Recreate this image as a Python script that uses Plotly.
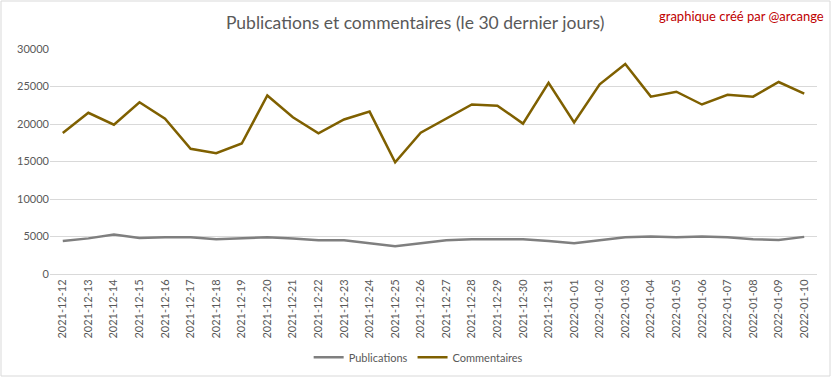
import plotly.graph_objects as go

dates = ["2021-12-12", "2021-12-13", "2021-12-14", "2021-12-15", "2021-12-16", "2021-12-17",
         "2021-12-18", "2021-12-19", "2021-12-20", "2021-12-21", "2021-12-22", "2021-12-23",
         "2021-12-24", "2021-12-25", "2021-12-26", "2021-12-27", "2021-12-28", "2021-12-29",
         "2021-12-30", "2021-12-31", "2022-01-01", "2022-01-02", "2022-01-03", "2022-01-04",
         "2022-01-05", "2022-01-06", "2022-01-07", "2022-01-08", "2022-01-09", "2022-01-10"]

publications = [4400, 4750, 5250, 4800, 4900, 4900, 4650, 4750, 4900, 4750, 4500, 4500,
                4100, 3700, 4100, 4500, 4650, 4650, 4650, 4400, 4100, 4500, 4900, 5000,
                4900, 5000, 4900, 4650, 4550, 4950]

commentaires = [18800, 21500, 19900, 22900, 20700, 16700, 16100, 17400, 23800, 20900, 18750, 20600,
                21650, 14900, 18850, 20700, 22600, 22450, 20050, 25500, 20200, 25300, 28000, 23650,
                24300, 22600, 23900, 23650, 25600, 24050]

FONT = "Lato"
TXT = "#595959"

fig = go.Figure()
fig.add_trace(go.Scatter(x=dates, y=publications, mode="lines", name="Publications",
                         line=dict(color="#7F7F7F", width=2.5)))
fig.add_trace(go.Scatter(x=dates, y=commentaires, mode="lines", name="Commentaires",
                         line=dict(color="#7F6000", width=2.5)))

fig.update_layout(
    width=832, height=378,
    margin=dict(l=50, r=15, t=49, b=104, autoexpand=False),
    paper_bgcolor="white", plot_bgcolor="white",
    font=dict(family=FONT, color=TXT, size=11),
    title=dict(text="Publications et commentaires (le 30 dernier jours)",
               x=0.499, xref="container", xanchor="center",
               y=1 - 23 / 378, yref="container", yanchor="middle",
               font=dict(family=FONT, size=17.5, color=TXT)),
    showlegend=True,
    legend=dict(orientation="h", x=0.48, xanchor="center", y=-0.37, yanchor="middle",
                font=dict(family=FONT, size=11, color=TXT), itemwidth=30),
    xaxis=dict(type="category", range=[-0.5, len(dates) - 0.5], tickangle=-90,
               showgrid=False, showline=True, linecolor="#D9D9D9", linewidth=1,
               ticks="", automargin=False, tickfont=dict(family=FONT, size=11, color=TXT),
               fixedrange=True),
    yaxis=dict(range=[0, 30000], dtick=5000, tickformat="d", showgrid=True,
               gridcolor="#D9D9D9", gridwidth=1, zeroline=False, showline=False,
               ticks="", automargin=False, tickfont=dict(family=FONT, size=11, color=TXT),
               fixedrange=True),
)

fig.add_annotation(text="graphique créé par @arcange", xref="paper", yref="paper",
                   x=(826 - 50) / 767, y=(274 - 16) / 225, xanchor="right", yanchor="middle",
                   showarrow=False, font=dict(family=FONT, size=13, color="#C00000"))

fig.add_shape(type="rect", xref="paper", yref="paper",
              x0=(1 - 50) / 767, x1=(830 - 50) / 767,
              y0=(274 - 376) / 225, y1=(274 - 1) / 225,
              line=dict(color="#D9D9D9", width=1), fillcolor="rgba(0,0,0,0)", layer="below")

fig.write_html("out.html", config={"displayModeBar": False},
               post_script="document.body.style.margin='0';document.body.style.overflow='hidden';")
